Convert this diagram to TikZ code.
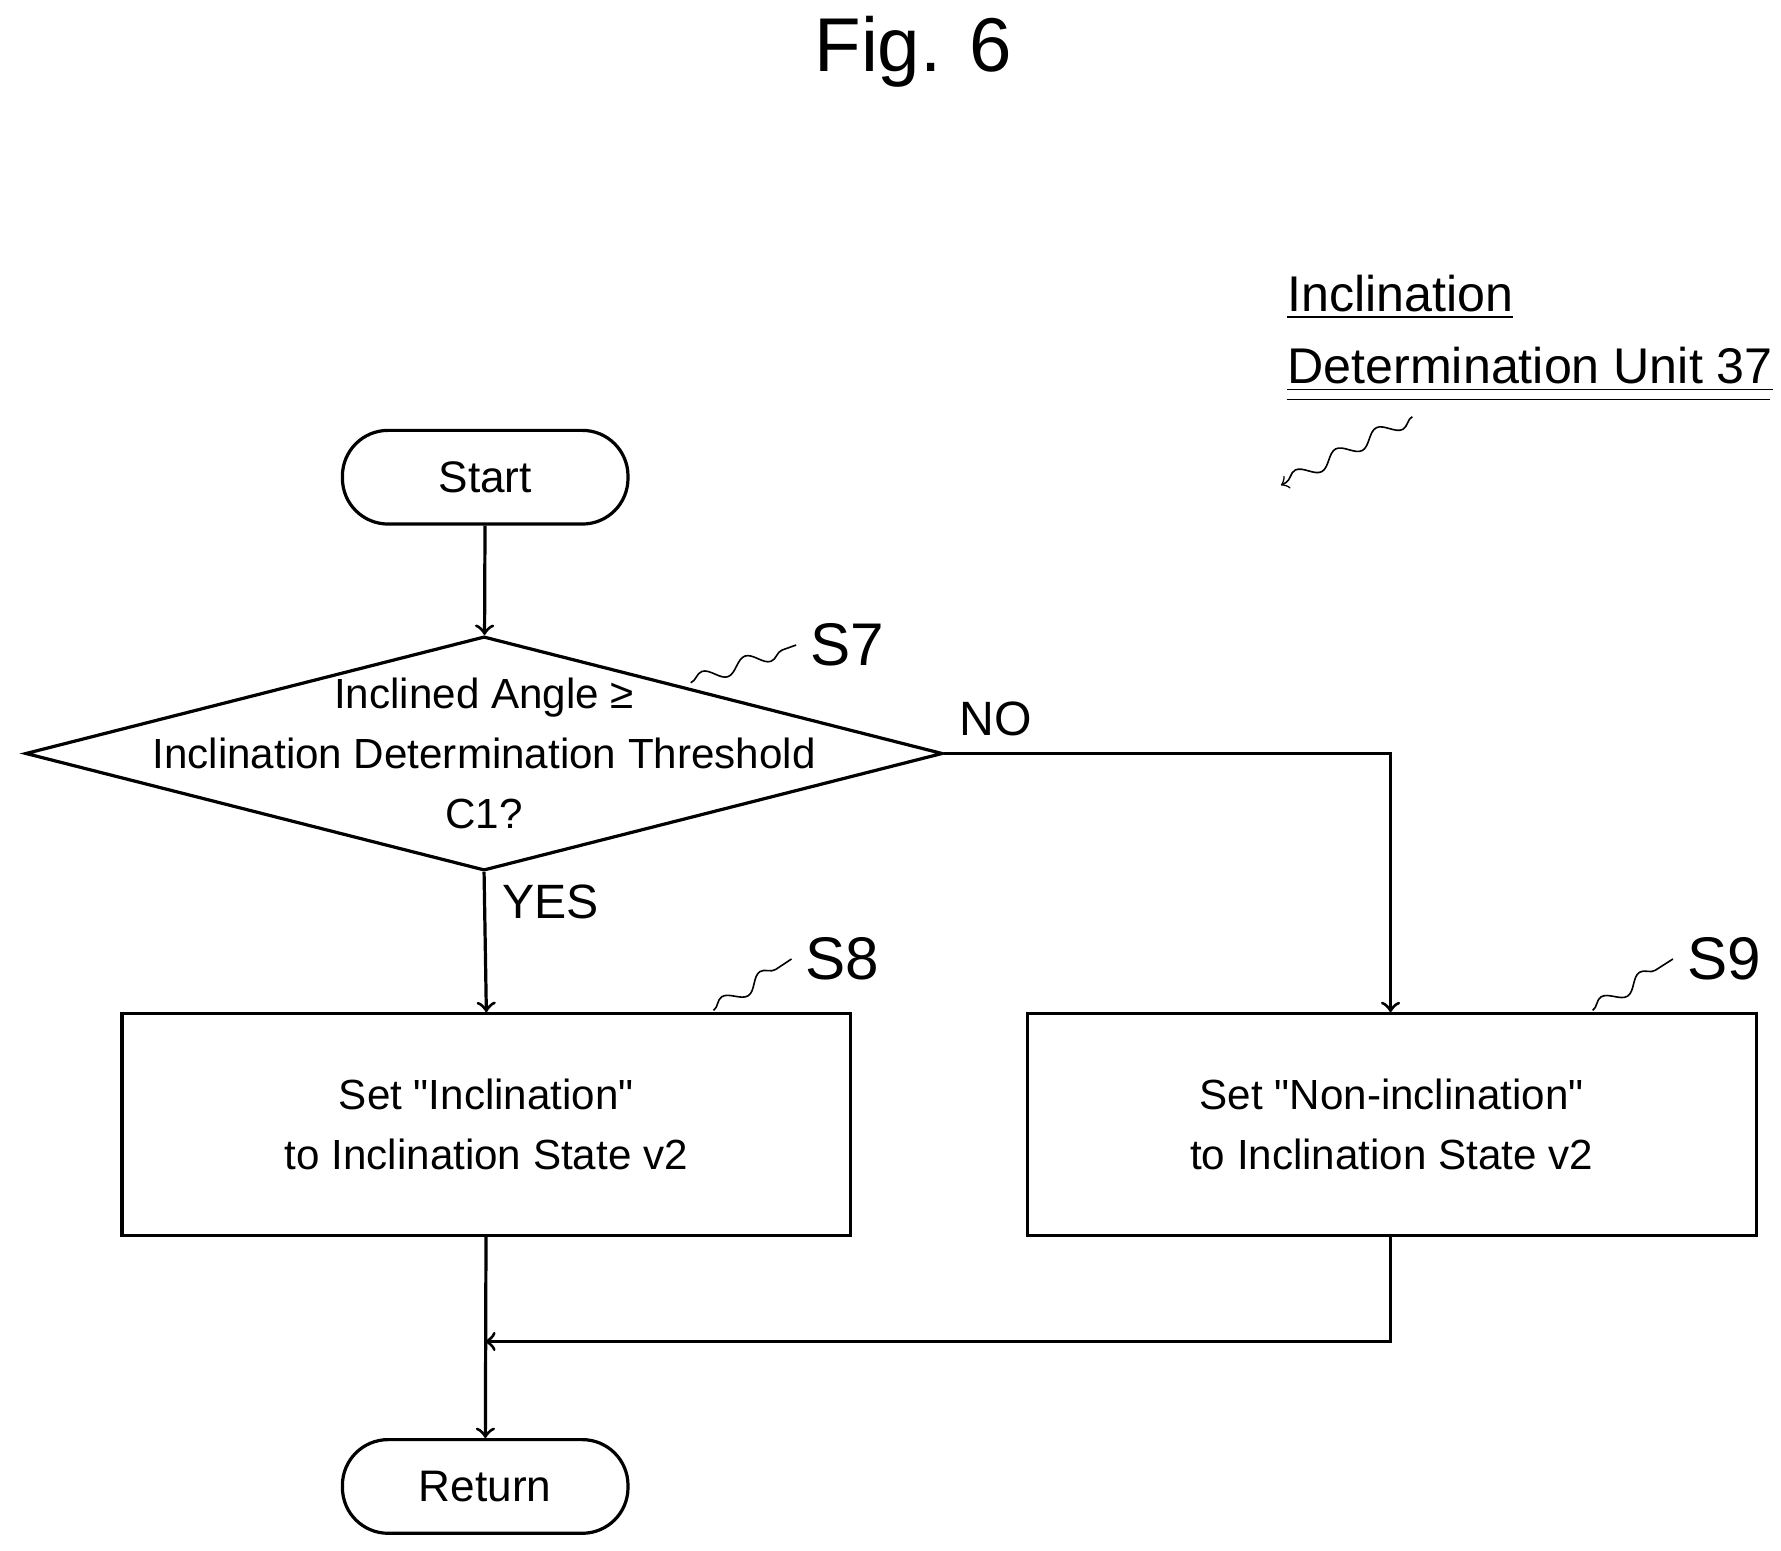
\documentclass[tikz,border=0pt]{standalone}
\usepackage{fontspec}
\setmainfont{Liberation Sans}
\usetikzlibrary{positioning,shapes.geometric,decorations.pathmorphing}

\begin{document}
\begin{tikzpicture}[x=0.01cm,y=-0.01cm,
terminal/.style={rectangle, rounded corners=0.4cm, draw, thick, minimum width=2.5cm, minimum height=0.82cm, font=\fontsize{11}{14}\selectfont},
decision/.style={diamond, draw, thick, aspect=3.92, inner sep=0pt, minimum width=8.03cm, minimum height=2.05cm},
process/.style={rectangle, draw, thick, minimum width=6.38cm, minimum height=1.94cm, align=center, font=\fontsize{10.5}{15}\selectfont},
steplabel/.style={font=\fontsize{15}{18}\selectfont},
wave/.style={thin, decorate, decoration={snake, amplitude=0.6mm, segment length=4mm}},
]
\useasboundingbox (0,0) rectangle (1560,1358);
%Nodes
\node[font=\fontsize{19}{22}\selectfont] (title) at (800,45) {Fig. 6};
\node[terminal] (start) at (425,418) {Start};
\node[decision] (check) at (424,660) {};
\node[align=center, font=\fontsize{10.5}{15}\selectfont] (checktext) at (check.center) {Inclined Angle ≥\\Inclination Determination Threshold\\C1?};
\node[process] (setincl) at (426,985) {Set \textquotedbl Inclination\textquotedbl\\to Inclination State v2};
\node[process] (setnon) at (1219,985) {Set \textquotedbl Non-inclination\textquotedbl\\to Inclination State v2};
\node[terminal] (return) at (425,1302) {Return};
\coordinate (join) at (425,1175);
\coordinate (corner) at (1218,660);

%Labels
\node[steplabel] (s7) at (742,565) {S7};
\node[steplabel] (s8) at (738,840) {S8};
\node[steplabel] (s9) at (1510,840) {S9};
\node[font=\fontsize{12}{16}\selectfont] (no) at (872,630) {NO};
\node[font=\fontsize{12}{16}\selectfont] (yes) at (482,790) {YES};
\node[font=\fontsize{12.5}{18}\selectfont, align=left, anchor=north west, inner sep=0pt] (unit) at (1127,240)
  {\underline{Inclination}\\\underline{Determination Unit 37}};
\coordinate (unitstart) at (1127,350);
\coordinate (unitend) at (1550,350);
\coordinate (unitarrow) at (1122,425);

%Lines
\draw[thick, ->] (start) -- (check);
\draw[thick, ->] (check.east) -- (corner) -- (setnon.north -| corner);
\draw[thick, ->] (check.south) -- (setincl.north);
\draw[thick, ->] (setincl) -- (return);
\draw[thick, ->] (setnon.south -| corner) |- (join);
\draw[thin] (unitstart) -- (unitend);
\draw[wave, ->] (1237,365) -- (unitarrow);
\draw[wave] (605,598) -- (s7.west);
\draw[wave] (625,885) -- (s8.west);
\draw[wave] (1395,885) -- (s9.west);
\end{tikzpicture}
\end{document}
